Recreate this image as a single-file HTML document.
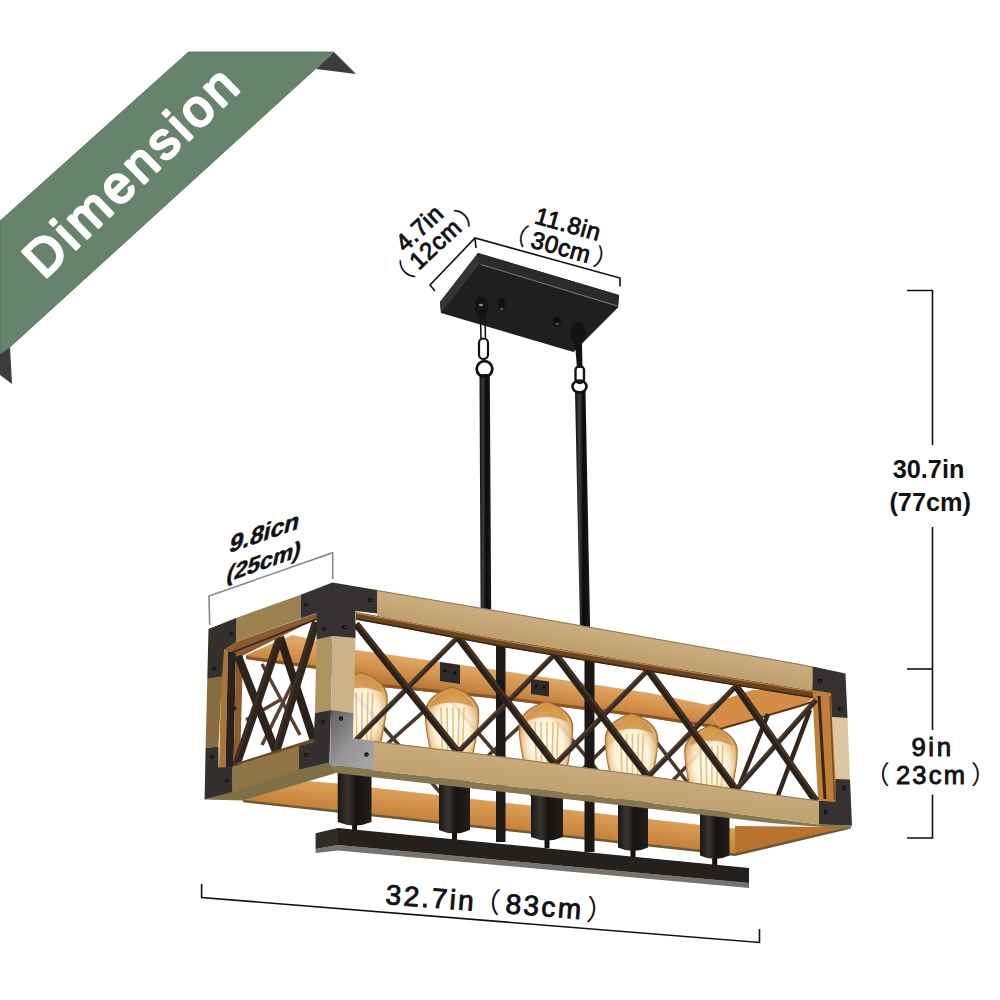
<!DOCTYPE html>
<html><head><meta charset="utf-8"><title>Dimension</title>
<style>html,body{margin:0;padding:0;background:#fff}svg{display:block}</style></head>
<body><svg width="1000" height="1000" viewBox="0 0 1000 1000">
<rect width="1000" height="1000" fill="#fff"/>
<polygon points="334.0,52.0 356.0,74.0 316.0,69.0" fill="#3b3d3c" />
<polygon points="10.0,347.0 12.0,384.0 0.0,375.0 0.0,354.0" fill="#3b3d3c" />
<polygon points="0.0,221.0 188.5,52.0 334.0,52.0 10.0,347.0 0.0,354.0" fill="#66836b" stroke="#4f6b55" stroke-width="0.8"/>
<text x="0" y="0" transform="translate(44,280) rotate(-44)" font-family="'Liberation Sans',sans-serif" font-size="51.5" fill="#fff" stroke="#fff" stroke-width="2.9" stroke-linejoin="round" stroke-linecap="round" letter-spacing="3.9">Dimension</text>
<polyline points="907.0,290.5 932.5,290.5 932.5,445.0" fill="none" stroke="#111" stroke-width="1.6" />
<polyline points="932.5,527.0 932.5,730.0" fill="none" stroke="#111" stroke-width="1.6" />
<polyline points="907.0,669.0 932.5,669.0" fill="none" stroke="#111" stroke-width="1.6" />
<polyline points="932.5,794.5 932.5,838.0 907.0,838.0" fill="none" stroke="#111" stroke-width="1.6" />
<text x="928.5" y="478" text-anchor="middle" font-family="'Liberation Sans','Noto Sans CJK SC',sans-serif" font-weight="bold" font-size="25.3" fill="#111">30.7in</text>
<text x="930.2" y="511" text-anchor="middle" font-family="'Liberation Sans','Noto Sans CJK SC',sans-serif" font-weight="bold" font-size="25.3" fill="#111">(77cm)</text>
<text x="932.5" y="756" text-anchor="middle" font-family="'Liberation Sans','Noto Sans CJK SC',sans-serif" font-size="25.8" letter-spacing="2.6" fill="#111" stroke="#111" stroke-width="0.9">9in</text>
<text x="0" y="0" text-anchor="middle" transform="translate(931.5,783.5)" font-family="'Liberation Sans','Noto Sans CJK SC',sans-serif" font-size="25.5" letter-spacing="2.2" fill="#111" stroke="#111" stroke-width="0.9"><tspan stroke-width="0">（</tspan><tspan dx="4">23cm</tspan><tspan dx="4" stroke-width="0">）</tspan></text>
<polyline points="201.6,884.0 201.6,897.5 759.5,942.5 759.5,929.0" fill="none" stroke="#111" stroke-width="1.6" />
<text x="0" y="0" transform="translate(385,904) rotate(4.4)" font-family="'Liberation Sans','Noto Sans CJK SC',sans-serif" font-size="28" letter-spacing="2.4" fill="#111" stroke="#111" stroke-width="0.9">32.7in<tspan dx="-14"> </tspan><tspan stroke-width="0">（</tspan><tspan dx="3">83cm</tspan><tspan dx="3" stroke-width="0">）</tspan></text>
<polyline points="435.0,291.0 430.0,285.0 475.0,238.0 620.0,278.0 620.0,286.5" fill="none" stroke="#111" stroke-width="1.6" />
<polyline points="475.0,238.0 476.0,248.0" fill="none" stroke="#111" stroke-width="1.6" />
<text x="0" y="0" text-anchor="middle" transform="translate(425,234) rotate(-43)" font-family="'Liberation Sans','Noto Sans CJK SC',sans-serif" font-size="24" letter-spacing="0.6" fill="#111" stroke="#111" stroke-width="0.9">4.7in</text>
<text x="0" y="0" text-anchor="middle" transform="translate(441,250) rotate(-43)" font-family="'Liberation Sans','Noto Sans CJK SC',sans-serif" font-size="24" letter-spacing="0.6" fill="#111" stroke="#111" stroke-width="0.9"><tspan stroke-width="0">（</tspan><tspan dx="4">12cm</tspan><tspan dx="4" stroke-width="0">）</tspan></text>
<text x="0" y="0" text-anchor="middle" transform="translate(566,232) rotate(15.4)" font-family="'Liberation Sans','Noto Sans CJK SC',sans-serif" font-size="24" letter-spacing="0.6" fill="#111" stroke="#111" stroke-width="0.9">11.8in</text>
<text x="0" y="0" text-anchor="middle" transform="translate(559,255) rotate(15.4)" font-family="'Liberation Sans','Noto Sans CJK SC',sans-serif" font-size="24" letter-spacing="0.6" fill="#111" stroke="#111" stroke-width="0.9"><tspan stroke-width="0">（</tspan><tspan dx="4">30cm</tspan><tspan dx="4" stroke-width="0">）</tspan></text>
<polyline points="209.7,624.7 209.0,596.0 332.7,552.7 332.7,579.0" fill="none" stroke="#8a8a8a" stroke-width="1.6" />
<text x="0" y="0" text-anchor="middle" transform="matrix(0.945,-0.333,-0.2,0.98,263,541)" font-family="'Liberation Sans','Noto Sans CJK SC',sans-serif" font-weight="bold" font-size="26" stroke="#111" stroke-width="0.5" fill="#111">9.8icn</text>
<text x="0" y="0" text-anchor="middle" transform="matrix(0.945,-0.333,-0.2,0.98,262.5,569.5)" font-family="'Liberation Sans','Noto Sans CJK SC',sans-serif" font-weight="bold" font-size="24.3" stroke="#111" stroke-width="0.5" fill="#111">(25cm)</text>
<defs><linearGradient id="rod" x1="0" x2="1" y1="0" y2="0"><stop offset="0" stop-color="#0d0d0d"/><stop offset="0.3" stop-color="#3c3c3c"/><stop offset="0.55" stop-color="#0a0a0a"/><stop offset="1" stop-color="#1c1c1c"/></linearGradient></defs>
<polygon points="479.5,374.0 489.8,374.0 491.2,612.0 480.6,610.0" fill="url(#rod)" />
<polygon points="575.0,391.0 585.5,391.0 590.2,632.0 580.0,630.0" fill="url(#rod)" />
<polygon points="440.0,302.0 478.0,253.0 619.0,295.0 618.0,307.5 573.5,352.0 441.0,313.0" fill="#1f1f1f" />
<polygon points="440.0,302.0 478.0,253.0 480.0,263.0 441.0,313.0" fill="#353535" />
<polygon points="478.0,253.0 619.0,295.0 618.0,307.5 480.0,264.0" fill="#2a2a2a" />
<polyline points="481.0,264.5 617.5,306.0" fill="none" stroke="#858585" stroke-width="0.9" />
<ellipse cx="481.5" cy="307.5" rx="6.5" ry="11.5" fill="#131313"/>
<ellipse cx="481" cy="305" rx="2.2" ry="1.3" fill="#8a8a8a"/>
<polyline points="480.5,318.0 481.0,339.0" fill="none" stroke="#131313" stroke-width="1.6" />
<polyline points="485.0,318.0 485.5,339.0" fill="none" stroke="#131313" stroke-width="1.6" />
<rect x="479" y="338.5" width="9" height="20.5" rx="4.5" fill="none" stroke="#131313" stroke-width="2.2"/>
<circle cx="484.5" cy="369" r="7.8" fill="none" stroke="#131313" stroke-width="2.8"/>
<ellipse cx="501.5" cy="304" rx="3.6" ry="6.5" fill="#101010"/><ellipse cx="501.7" cy="309" rx="2" ry="1.4" fill="#4a4a4a"/>
<ellipse cx="578" cy="333.5" rx="7.5" ry="11.5" fill="#131313"/>
<path d="M575,344 L577,368 L582.5,368 L582,344 Z" fill="#131313"/>
<rect x="575.5" y="366" width="8.5" height="17" rx="4.2" fill="none" stroke="#131313" stroke-width="2.4"/>
<ellipse cx="579.5" cy="386.5" rx="7" ry="6" fill="none" stroke="#131313" stroke-width="2.6"/>
<ellipse cx="557" cy="321.5" rx="4" ry="5.5" fill="#101010"/><ellipse cx="557.3" cy="324" rx="2" ry="1.4" fill="#4a4a4a"/>
<defs>
<radialGradient id="bulb" cx="0.5" cy="0.55" r="0.62"><stop offset="0" stop-color="#ffffff" stop-opacity="0.9"/><stop offset="0.5" stop-color="#fff2d6" stop-opacity="0.8"/><stop offset="0.78" stop-color="#e3b06c"/><stop offset="1" stop-color="#b87832"/></radialGradient>
<linearGradient id="cyl" x1="0" x2="1" y1="0" y2="0"><stop offset="0" stop-color="#1a1715"/><stop offset="0.3" stop-color="#3a3532"/><stop offset="0.55" stop-color="#15120f"/><stop offset="1" stop-color="#221e1b"/></linearGradient>
<linearGradient id="silver" x1="0" x2="1" y1="0" y2="1"><stop offset="0" stop-color="#5f5d5d"/><stop offset="0.5" stop-color="#969494"/><stop offset="1" stop-color="#a9a7a7"/></linearGradient>
<linearGradient id="woodf" gradientUnits="userSpaceOnUse" x1="500" y1="611" x2="495.3" y2="638.6"><stop offset="0" stop-color="#ccae80"/><stop offset="1" stop-color="#be9e6c"/></linearGradient>
<linearGradient id="woodb" gradientUnits="userSpaceOnUse" x1="500" y1="756.3" x2="496.4" y2="785"><stop offset="0" stop-color="#c9ab7c"/><stop offset="1" stop-color="#c0a170"/></linearGradient>
<linearGradient id="org" gradientUnits="userSpaceOnUse" x1="500" y1="670.5" x2="495.9" y2="698.7"><stop offset="0" stop-color="#dfa766"/><stop offset="0.55" stop-color="#d2904a"/><stop offset="1" stop-color="#b9783a"/></linearGradient>
<linearGradient id="org2" gradientUnits="userSpaceOnUse" x1="500" y1="803" x2="497.2" y2="828.8"><stop offset="0" stop-color="#dc9f58"/><stop offset="1" stop-color="#c57f38"/></linearGradient>
</defs>
<polygon points="246.0,655.0 292.5,635.0 356.0,650.0 490.0,669.0 650.0,693.0 708.0,705.0 720.0,729.0 650.0,718.0 490.0,698.0 356.0,684.5 317.0,669.0 246.0,659.0" fill="url(#org)" />
<polyline points="246.0,657.5 317.0,667.5 356.0,683.0 490.0,696.5 650.0,716.5 720.0,727.5" fill="none" stroke="#8a5424" stroke-width="3" />
<polygon points="708.0,705.0 752.0,690.0 813.0,690.0 813.0,699.0 800.0,706.0 720.0,729.0" fill="#d58d45" />
<polyline points="720.0,729.0 800.0,706.0 820.0,699.0" fill="none" stroke="#5a3515" stroke-width="2" />
<polygon points="812.0,686.0 833.0,690.0 837.0,803.0 818.0,800.0" fill="#bf7f3a" />
<polyline points="819.0,696.0 825.0,799.0" fill="none" stroke="#3a2614" stroke-width="3" />
<polyline points="830.0,696.0 834.5,800.0" fill="none" stroke="#7a4a20" stroke-width="1.5" />
<polygon points="243.0,800.4 307.0,781.0 337.0,783.6 730.0,828.3 846.0,827.0 735.0,854.3" fill="url(#org2)" />
<polygon points="735.0,825.9 846.0,827.0 735.0,854.3" fill="#b8742f" />
<polyline points="243.0,801.0 735.0,854.8 848.0,828.0" fill="none" stroke="#6a5a35" stroke-width="2.5" />
<polygon points="440.0,662.0 460.0,665.0 460.0,684.0 440.0,681.0" fill="#2e2a28" />
<polygon points="531.0,679.0 549.0,681.5 549.0,696.5 531.0,694.0" fill="#2e2a28" />
<circle cx="445" cy="671" r="1.4" fill="#0a0a0a"/>
<circle cx="455" cy="673" r="1.4" fill="#0a0a0a"/>
<circle cx="536" cy="686" r="1.4" fill="#0a0a0a"/>
<circle cx="544" cy="687.5" r="1.4" fill="#0a0a0a"/>
<polygon points="341.8,786.8 445.2,694.7 442.8,692.0 339.4,784.1" fill="#4a382c" />
<polygon points="442.6,694.5 541.6,808.9 544.4,806.6 445.4,692.2" fill="#4a382c" />
<polygon points="544.3,809.0 638.1,717.6 635.5,715.1 541.7,806.4" fill="#4a382c" />
<polygon points="635.4,717.4 720.6,828.5 723.4,826.3 638.2,715.3" fill="#4a382c" />
<polygon points="339.2,679.6 442.6,798.0 445.4,795.7 342.0,677.2" fill="#4a382c" />
<polygon points="445.2,798.2 544.2,705.9 541.8,703.3 442.8,795.5" fill="#4a382c" />
<polygon points="541.6,705.8 635.4,819.2 638.2,816.9 544.4,703.5" fill="#4a382c" />
<polygon points="638.1,819.3 723.3,730.6 720.7,728.1 635.5,816.8" fill="#4a382c" />
<polygon points="765.9,713.2 734.9,791.2 739.1,792.8 770.1,714.8" fill="#33261d" />
<polygon points="807.9,709.2 774.9,797.2 779.1,798.8 812.1,710.8" fill="#33261d" />
<rect x="496" y="646" width="9.5" height="196" fill="#1c1816"/>
<rect x="584.5" y="661" width="10" height="191" fill="#1c1816"/>
<path d="M361,673 C366.88,674.96 383.54,680.84 386.48,694.56 C387.95000000000005,706.32 384.52000000000004,720.04 381.58000000000004,735.72 L379.62,745.52 L342.38,745.52 L340.41999999999996,735.72 C337.47999999999996,720.04 334.04999999999995,706.32 335.52,694.56 C338.46,680.84 355.12,674.96 361,673 Z" fill="#fff6e4" fill-opacity="0.72" stroke="#a06c32" stroke-width="2"/>
<path d="M361,673 C366.88,674.96 383.54,680.84 386.48,694.56 C387.95000000000005,706.32 384.52000000000004,720.04 381.58000000000004,735.72 L379.62,745.52 L342.38,745.52 L340.41999999999996,735.72 C337.47999999999996,720.04 334.04999999999995,706.32 335.52,694.56 C338.46,680.84 355.12,674.96 361,673 Z" fill="url(#bulb)" opacity="0.8"/>
<path d="M361,674 C366.88,675.94 380.6,681.82 382.56,692.6 Q361,682.8 339.44,692.6 C341.4,681.82 355.12,675.94 361,674 Z" fill="#d08f3f" opacity="0.8"/>
<line x1="350.2" y1="692.6" x2="351.8" y2="743.6" stroke="#e9b566" stroke-width="1.6" opacity="0.85"/>
<line x1="356.1" y1="692.6" x2="356.8" y2="743.6" stroke="#e9b566" stroke-width="1.6" opacity="0.85"/>
<line x1="362.0" y1="692.6" x2="361.8" y2="743.6" stroke="#e9b566" stroke-width="1.6" opacity="0.85"/>
<line x1="367.9" y1="692.6" x2="366.8" y2="743.6" stroke="#e9b566" stroke-width="1.6" opacity="0.85"/>
<line x1="372.8" y1="692.6" x2="371.0" y2="743.6" stroke="#e9b566" stroke-width="1.6" opacity="0.85"/>
<path d="M452,687.5 C458.0,689.5 475.0,695.5 478.0,709.5 C479.5,721.5 476.0,735.5 473.0,751.5 L471.0,761.5 L433.0,761.5 L431.0,751.5 C428.0,735.5 424.5,721.5 426.0,709.5 C429.0,695.5 446.0,689.5 452,687.5 Z" fill="#fff6e4" fill-opacity="0.72" stroke="#a06c32" stroke-width="2"/>
<path d="M452,687.5 C458.0,689.5 475.0,695.5 478.0,709.5 C479.5,721.5 476.0,735.5 473.0,751.5 L471.0,761.5 L433.0,761.5 L431.0,751.5 C428.0,735.5 424.5,721.5 426.0,709.5 C429.0,695.5 446.0,689.5 452,687.5 Z" fill="url(#bulb)" opacity="0.8"/>
<path d="M452,688.5 C458.0,690.5 472.0,696.5 474.0,707.5 Q452,697.5 430.0,707.5 C432.0,696.5 446.0,690.5 452,688.5 Z" fill="#d08f3f" opacity="0.8"/>
<line x1="441.0" y1="707.5" x2="442.6" y2="759.5" stroke="#e9b566" stroke-width="1.6" opacity="0.85"/>
<line x1="447.0" y1="707.5" x2="447.8" y2="759.5" stroke="#e9b566" stroke-width="1.6" opacity="0.85"/>
<line x1="453.0" y1="707.5" x2="452.9" y2="759.5" stroke="#e9b566" stroke-width="1.6" opacity="0.85"/>
<line x1="459.0" y1="707.5" x2="457.9" y2="759.5" stroke="#e9b566" stroke-width="1.6" opacity="0.85"/>
<line x1="464.0" y1="707.5" x2="462.2" y2="759.5" stroke="#e9b566" stroke-width="1.6" opacity="0.85"/>
<path d="M546,702 C552.0,704.0 569.0,710.0 572.0,724.0 C573.5,736.0 570.0,750.0 567.0,766.0 L565.0,776.0 L527.0,776.0 L525.0,766.0 C522.0,750.0 518.5,736.0 520.0,724.0 C523.0,710.0 540.0,704.0 546,702 Z" fill="#fff6e4" fill-opacity="0.72" stroke="#a06c32" stroke-width="2"/>
<path d="M546,702 C552.0,704.0 569.0,710.0 572.0,724.0 C573.5,736.0 570.0,750.0 567.0,766.0 L565.0,776.0 L527.0,776.0 L525.0,766.0 C522.0,750.0 518.5,736.0 520.0,724.0 C523.0,710.0 540.0,704.0 546,702 Z" fill="url(#bulb)" opacity="0.8"/>
<path d="M546,703 C552.0,705.0 566.0,711.0 568.0,722.0 Q546,712.0 524.0,722.0 C526.0,711.0 540.0,705.0 546,703 Z" fill="#d08f3f" opacity="0.8"/>
<line x1="535.0" y1="722.0" x2="536.6" y2="774.0" stroke="#e9b566" stroke-width="1.6" opacity="0.85"/>
<line x1="541.0" y1="722.0" x2="541.8" y2="774.0" stroke="#e9b566" stroke-width="1.6" opacity="0.85"/>
<line x1="547.0" y1="722.0" x2="546.9" y2="774.0" stroke="#e9b566" stroke-width="1.6" opacity="0.85"/>
<line x1="553.0" y1="722.0" x2="552.0" y2="774.0" stroke="#e9b566" stroke-width="1.6" opacity="0.85"/>
<line x1="558.0" y1="722.0" x2="556.2" y2="774.0" stroke="#e9b566" stroke-width="1.6" opacity="0.85"/>
<path d="M631.5,714 C637.38,715.96 654.04,721.84 656.98,735.56 C658.45,747.32 655.02,761.04 652.08,776.72 L650.12,786.52 L612.88,786.52 L610.92,776.72 C607.98,761.04 604.55,747.32 606.02,735.56 C608.96,721.84 625.62,715.96 631.5,714 Z" fill="#fff6e4" fill-opacity="0.72" stroke="#a06c32" stroke-width="2"/>
<path d="M631.5,714 C637.38,715.96 654.04,721.84 656.98,735.56 C658.45,747.32 655.02,761.04 652.08,776.72 L650.12,786.52 L612.88,786.52 L610.92,776.72 C607.98,761.04 604.55,747.32 606.02,735.56 C608.96,721.84 625.62,715.96 631.5,714 Z" fill="url(#bulb)" opacity="0.8"/>
<path d="M631.5,715 C637.38,716.94 651.1,722.82 653.0600000000001,733.6 Q631.5,723.8 609.9399999999999,733.6 C611.9,722.82 625.62,716.94 631.5,715 Z" fill="#d08f3f" opacity="0.8"/>
<line x1="620.7" y1="733.6" x2="622.3" y2="784.6" stroke="#e9b566" stroke-width="1.6" opacity="0.85"/>
<line x1="626.6" y1="733.6" x2="627.3" y2="784.6" stroke="#e9b566" stroke-width="1.6" opacity="0.85"/>
<line x1="632.5" y1="733.6" x2="632.3" y2="784.6" stroke="#e9b566" stroke-width="1.6" opacity="0.85"/>
<line x1="638.4" y1="733.6" x2="637.3" y2="784.6" stroke="#e9b566" stroke-width="1.6" opacity="0.85"/>
<line x1="643.3" y1="733.6" x2="641.5" y2="784.6" stroke="#e9b566" stroke-width="1.6" opacity="0.85"/>
<path d="M711,726 C716.88,727.96 733.54,733.84 736.48,747.56 C737.95,759.32 734.52,773.04 731.58,788.72 L729.62,798.52 L692.38,798.52 L690.42,788.72 C687.48,773.04 684.05,759.32 685.52,747.56 C688.46,733.84 705.12,727.96 711,726 Z" fill="#fff6e4" fill-opacity="0.72" stroke="#a06c32" stroke-width="2"/>
<path d="M711,726 C716.88,727.96 733.54,733.84 736.48,747.56 C737.95,759.32 734.52,773.04 731.58,788.72 L729.62,798.52 L692.38,798.52 L690.42,788.72 C687.48,773.04 684.05,759.32 685.52,747.56 C688.46,733.84 705.12,727.96 711,726 Z" fill="url(#bulb)" opacity="0.8"/>
<path d="M711,727 C716.88,728.94 730.6,734.82 732.5600000000001,745.6 Q711,735.8 689.4399999999999,745.6 C691.4,734.82 705.12,728.94 711,727 Z" fill="#d08f3f" opacity="0.8"/>
<line x1="700.2" y1="745.6" x2="701.8" y2="796.6" stroke="#e9b566" stroke-width="1.6" opacity="0.85"/>
<line x1="706.1" y1="745.6" x2="706.8" y2="796.6" stroke="#e9b566" stroke-width="1.6" opacity="0.85"/>
<line x1="712.0" y1="745.6" x2="711.8" y2="796.6" stroke="#e9b566" stroke-width="1.6" opacity="0.85"/>
<line x1="717.9" y1="745.6" x2="716.8" y2="796.6" stroke="#e9b566" stroke-width="1.6" opacity="0.85"/>
<line x1="722.8" y1="745.6" x2="721.0" y2="796.6" stroke="#e9b566" stroke-width="1.6" opacity="0.85"/>
<rect x="352.1" y="823.0" width="5" height="10" fill="#141210"/>
<path d="M337.7,763 L371.5,763 L371.5,822 Q354.6,829 337.7,822 Z" fill="url(#cyl)"/>
<rect x="452.0" y="831.0" width="5" height="10" fill="#141210"/>
<path d="M439,771 L470,771 L470,830 Q454.5,837 439,830 Z" fill="url(#cyl)"/>
<rect x="544.5" y="838.0" width="5" height="10" fill="#141210"/>
<path d="M531,778 L563,778 L563,837 Q547.0,844 531,837 Z" fill="url(#cyl)"/>
<rect x="630.5" y="848.5" width="5" height="10" fill="#141210"/>
<path d="M618,788.5 L648,788.5 L648,847.5 Q633.0,854.5 618,847.5 Z" fill="url(#cyl)"/>
<rect x="712.2" y="856.5" width="5" height="10" fill="#141210"/>
<path d="M700,796.5 L729.5,796.5 L729.5,855.5 Q714.75,862.5 700,855.5 Z" fill="url(#cyl)"/>
<polygon points="315.6,849.0 338.0,845.0 749.0,883.0 749.0,888.0 338.0,850.5 315.6,853.0" fill="#77726d" />
<polygon points="338.0,828.0 749.0,868.0 749.0,883.0 338.0,845.0" fill="#23201e" />
<polygon points="315.6,833.2 338.0,828.0 338.0,845.0 315.6,849.0" fill="#2e2b29" />
<polygon points="222.0,650.0 228.0,651.0 225.5,768.0 219.0,769.0" fill="#a8743c" />
<polygon points="228.0,651.0 236.0,653.0 233.5,767.0 225.5,768.0" fill="#2c211a" />
<polygon points="236.0,653.0 243.0,655.5 240.0,765.0 233.5,767.0" fill="#8c5c30" />
<polygon points="260.5,664.8 298.5,735.8 301.5,734.2 263.5,663.2" fill="#5a4030" />
<polygon points="298.4,667.2 260.4,744.2 263.6,745.8 301.6,668.8" fill="#5a4030" />
<polygon points="246.9,721.5 280.9,701.5 279.1,698.5 245.1,718.5" fill="#5a4030" />
<polygon points="276.2,638.2 310.2,742.2 317.8,739.8 283.8,635.8" fill="#2a211b" />
<polygon points="234.3,657.5 272.3,753.5 279.7,750.5 241.7,654.5" fill="#2c231c" />
<polygon points="239.8,767.3 283.8,638.3 276.2,635.7 232.2,764.7" fill="#30251d" />
<polyline points="233.9,765.3 277.9,636.3" fill="none" stroke="#3f2e21" stroke-width="2.4" />
<polygon points="279.8,753.2 319.8,623.2 312.2,620.8 272.2,750.8" fill="#30251d" />
<polyline points="273.9,751.4 313.9,621.4" fill="none" stroke="#3f2e21" stroke-width="2.4" />
<polygon points="236.0,642.0 317.0,613.0 317.0,618.5 243.0,655.5 224.0,650.0" fill="#8a5a30" />
<polyline points="232.0,652.5 317.0,619.0" fill="none" stroke="#3a2414" stroke-width="1.5" />
<polygon points="232.5,767.0 313.5,742.0 313.5,738.5 238.0,762.5" fill="#6e4a28" />
<polygon points="236.0,618.1 300.7,594.7 300.7,618.5 236.0,642.0" fill="#9c8150" />
<polygon points="207.3,679.0 222.0,676.5 218.5,746.5 205.6,748.0" fill="#866c40" />
<polygon points="316.5,639.5 332.5,636.0 331.0,710.0 315.0,713.0" fill="#ad9562" />
<polygon points="232.5,767.0 299.0,746.0 299.0,770.0 232.6,792.4" fill="#8f7546" />
<polygon points="208.5,629.0 236.0,618.1 236.0,642.0 224.0,650.0 222.0,676.5 207.3,679.0" fill="#33302e" />
<polygon points="300.7,594.7 332.5,582.5 332.5,636.0 316.5,639.5 316.5,613.0 300.7,618.5" fill="#353231" />
<polygon points="315.0,713.0 331.0,710.0 329.4,762.8 299.0,770.0 299.0,746.0 313.5,742.0" fill="#33302e" />
<polygon points="205.6,748.0 218.5,746.5 218.5,767.5 232.5,767.0 232.6,792.4 204.6,799.6" fill="#33302e" />
<polygon points="204.6,799.6 232.6,792.0 299.0,769.5 329.4,762.8 336.0,773.0 243.0,800.6" fill="#7f6f45" />
<circle cx="231.5" cy="634.0" r="2" fill="#0c0b0a"/><circle cx="231.9" cy="634.3" r="0.9" fill="#4a4540"/>
<circle cx="214.5" cy="669.0" r="2" fill="#0c0b0a"/><circle cx="214.9" cy="669.3" r="0.9" fill="#4a4540"/>
<circle cx="306.0" cy="605.0" r="2" fill="#0c0b0a"/><circle cx="306.4" cy="605.3" r="0.9" fill="#4a4540"/>
<circle cx="324.0" cy="629.0" r="2" fill="#0c0b0a"/><circle cx="324.4" cy="629.3" r="0.9" fill="#4a4540"/>
<circle cx="323.0" cy="722.0" r="2" fill="#0c0b0a"/><circle cx="323.4" cy="722.3" r="0.9" fill="#4a4540"/>
<circle cx="306.0" cy="755.0" r="2" fill="#0c0b0a"/><circle cx="306.4" cy="755.3" r="0.9" fill="#4a4540"/>
<circle cx="227.0" cy="781.0" r="2" fill="#0c0b0a"/><circle cx="227.4" cy="781.3" r="0.9" fill="#4a4540"/>
<circle cx="212.0" cy="757.0" r="2" fill="#0c0b0a"/><circle cx="212.4" cy="757.3" r="0.9" fill="#4a4540"/>
<circle cx="234.5" cy="708.5" r="2" fill="#0c0b0a"/><circle cx="234.9" cy="708.8" r="0.9" fill="#4a4540"/>
<polygon points="459.8,754.0 556.8,655.8 553.2,652.2 456.2,750.3" fill="#372a21" />
<polyline points="457.0,751.2 554.0,653.0" fill="none" stroke="#54402f" stroke-width="1.56" />
<polygon points="649.9,778.5 737.9,687.8 734.1,684.2 646.1,774.9" fill="#372a21" />
<polyline points="647.0,775.7 735.0,685.0" fill="none" stroke="#54402f" stroke-width="1.56" />
<polygon points="357.8,741.8 459.8,638.8 456.2,635.2 354.2,738.1" fill="#372a21" />
<polyline points="355.0,739.0 457.0,636.0" fill="none" stroke="#54402f" stroke-width="1.56" />
<polygon points="556.9,766.4 649.9,671.8 646.1,668.2 553.1,762.7" fill="#372a21" />
<polyline points="554.0,763.5 647.0,669.0" fill="none" stroke="#54402f" stroke-width="1.56" />
<polygon points="737.9,791.6 817.9,701.7 814.1,698.3 734.1,788.2" fill="#372a21" />
<polyline points="734.9,788.9 814.9,699.0" fill="none" stroke="#54402f" stroke-width="1.56" />
<polygon points="353.2,626.2 455.2,754.4 460.8,749.9 358.8,621.8" fill="#2a211b" />
<polyline points="357.5,622.8 459.5,750.9" fill="none" stroke="#4a3523" stroke-width="2.16" />
<polygon points="552.1,656.2 645.1,778.9 650.9,774.6 557.9,651.8" fill="#2a211b" />
<polyline points="556.6,652.8 649.6,775.5" fill="none" stroke="#4a3523" stroke-width="2.16" />
<polygon points="733.0,688.1 813.0,803.2 819.0,799.0 739.0,683.9" fill="#2a211b" />
<polyline points="737.6,684.9 817.6,800.0" fill="none" stroke="#4a3523" stroke-width="2.16" />
<polygon points="455.1,639.2 552.1,766.7 557.9,762.4 460.9,634.8" fill="#2a211b" />
<polyline points="459.6,635.8 556.6,763.3" fill="none" stroke="#4a3523" stroke-width="2.16" />
<polygon points="645.1,672.1 733.1,792.0 738.9,787.8 650.9,667.9" fill="#2a211b" />
<polyline points="649.6,668.8 737.6,788.7" fill="none" stroke="#4a3523" stroke-width="2.16" />
<polygon points="356.0,612.0 400.0,620.0 500.0,639.0 650.0,664.0 800.0,688.5 813.0,690.4 813.0,697.9 800.0,696.0 650.0,671.5 500.0,646.5 400.0,627.5 356.0,619.5" fill="#6a4520" />
<polyline points="356.0,613.2 400.0,621.2 500.0,640.2 650.0,665.2 800.0,689.7 813.0,691.6" fill="none" stroke="#b9803e" stroke-width="1.2" />
<polyline points="356.0,619.0 400.0,627.0 500.0,646.0 650.0,671.0 800.0,695.5 813.0,697.4" fill="none" stroke="#3a2616" stroke-width="1.4" />
<polygon points="377.0,590.1 500.0,611.0 650.0,637.5 800.0,664.0 812.5,666.6 812.5,690.3 800.0,688.5 650.0,664.0 500.0,639.0 400.0,620.0 377.0,615.8" fill="url(#woodf)" />
<polyline points="377.0,590.6 500.0,611.5 650.0,638.0 800.0,664.5 812.5,667.1" fill="none" stroke="#8f7852" stroke-width="1" />
<polygon points="330.0,765.0 490.0,784.0 640.0,801.6 770.0,818.0 819.0,824.5 852.0,825.5 850.0,829.0 770.0,823.0 640.0,807.5 490.0,790.5 336.0,773.0" fill="#877750" />
<polygon points="374.0,741.1 490.0,755.0 650.0,776.0 770.0,794.0 819.0,800.5 819.0,824.5 770.0,818.0 640.0,801.6 490.0,784.0 374.0,770.2" fill="url(#woodb)" />
<polyline points="374.0,741.6 490.0,755.5 650.0,776.5 770.0,794.5 819.0,801.0" fill="none" stroke="#8f7852" stroke-width="1" />
<polygon points="332.5,636.0 355.5,638.0 353.5,713.0 331.0,710.0" fill="#cdb389" />
<polygon points="832.0,717.0 847.5,718.0 850.0,779.5 835.5,779.0" fill="#dcc7a0" />
<polygon points="332.5,582.5 377.0,590.1 377.0,613.5 355.5,611.0 355.5,638.0 332.5,636.0" fill="#353231" />
<polygon points="331.0,710.0 353.5,713.0 353.0,738.6 374.0,741.1 374.0,770.2 330.0,765.0" fill="url(#silver)" />
<polygon points="812.5,666.6 845.5,673.5 847.5,718.0 832.0,717.0 831.0,693.0 812.5,690.0" fill="#353231" />
<polygon points="835.5,779.0 850.0,779.5 852.0,825.5 819.0,824.5 819.0,800.5 835.5,802.0" fill="#353231" />
<polyline points="332.5,583.0 332.5,636.0" fill="none" stroke="#34302f" stroke-width="1.6" />
<circle cx="370.5" cy="600.0" r="2.2" fill="#0c0b0a"/><circle cx="370.9" cy="600.3" r="1.0" fill="#4a4540"/>
<circle cx="344.5" cy="627.0" r="2.2" fill="#0c0b0a"/><circle cx="344.9" cy="627.3" r="1.0" fill="#4a4540"/>
<circle cx="341.0" cy="718.5" r="2.2" fill="#0c0b0a"/><circle cx="341.4" cy="718.8" r="1.0" fill="#4a4540"/>
<circle cx="366.5" cy="754.5" r="2.2" fill="#0c0b0a"/><circle cx="366.9" cy="754.8" r="1.0" fill="#4a4540"/>
<circle cx="820.0" cy="681.0" r="2.2" fill="#0c0b0a"/><circle cx="820.4" cy="681.3" r="1.0" fill="#4a4540"/>
<circle cx="840.0" cy="709.0" r="2.2" fill="#0c0b0a"/><circle cx="840.4" cy="709.3" r="1.0" fill="#4a4540"/>
<circle cx="844.0" cy="788.0" r="2.2" fill="#0c0b0a"/><circle cx="844.4" cy="788.3" r="1.0" fill="#4a4540"/>
<circle cx="826.0" cy="812.0" r="2.2" fill="#0c0b0a"/><circle cx="826.4" cy="812.3" r="1.0" fill="#4a4540"/>
</svg></body></html>
